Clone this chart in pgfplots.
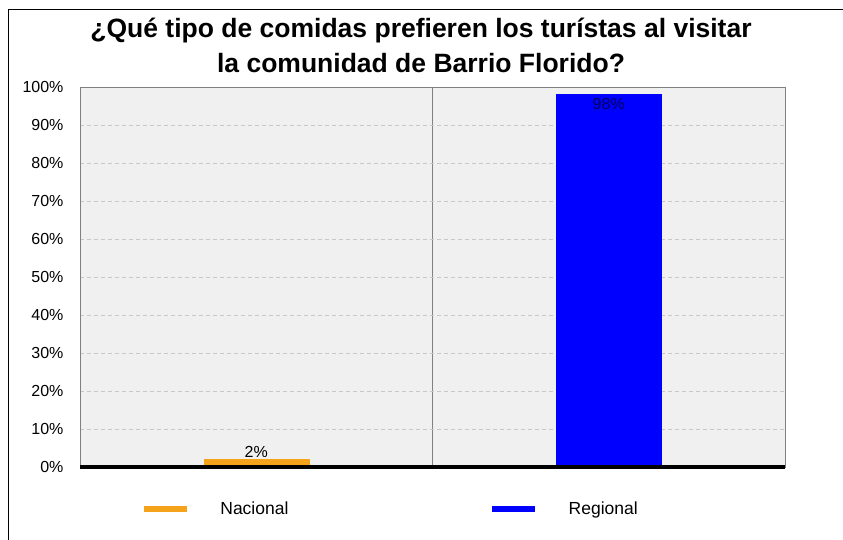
\documentclass[border=0pt]{standalone}
\usepackage{pgfplots}
\pgfplotsset{compat=1.18}
\usepackage{fontspec}
\setmainfont{Liberation Sans}
\definecolor{bgC}{HTML}{F0F0F0}
\definecolor{orC}{HTML}{F5A31A}
\definecolor{blC}{HTML}{0000FF}
\definecolor{frameC}{HTML}{808080}
\definecolor{gridC}{HTML}{C8C8C8}
\begin{document}
\begin{tikzpicture}
\useasboundingbox (-80pt,-74pt) rectangle (763pt,466pt);
\draw[black, line width=1pt] (-71.5pt,-74pt) -- (-71.5pt,456pt) -- (763pt,456pt);
\node[font=\fontsize{26.5}{35}\selectfont\bfseries, align=center] at (341pt,420.5pt)
  {¿Qué tipo de comidas prefieren los turístas al visitar\\la comunidad de Barrio Florido?};
\begin{axis}[
  at={(0pt,-1pt)}, anchor=south west,
  scale only axis, width=705pt, height=380pt,
  xmin=-0.5, xmax=1.5, ymin=0, ymax=100,
  axis background/.style={fill=bgC},
  axis line style={frameC, line width=0.8pt},
  xtick={0.5}, xticklabels={},
  ytick={0,10,...,100},
  yticklabel={\pgfmathprintnumber{\tick}\%},
  /pgf/number format/assume math mode=true,
  tick label style={font=\fontsize{16}{18}\selectfont},
  yticklabel style={xshift=-13pt},
  major tick length=0pt,
  xmajorgrids, ymajorgrids,
  major x grid style={solid, frameC, line width=0.6pt},
  major y grid style={gridC, dash pattern=on 4pt off 3pt, line width=0.6pt},
  ybar, bar width=0.298,
  legend style={at={(0.0865,-0.11)}, anchor=west, draw=none, fill=none,
    inner sep=0pt, font=\fontsize{17.5}{20}\selectfont, legend columns=2,
    /tikz/every even column/.append style={column sep=199pt}},
  legend image code/.code={\draw[line width=6pt] (0pt,0pt) -- (43pt,0pt); \path (74pt,0pt);},
  clip=false,
]
\addplot[bar shift=0pt, fill=orC, draw=orC,
  nodes near coords={\pgfmathprintnumber{\pgfplotspointmeta}\%},
  nodes near coords style={font=\fontsize{16}{18}\selectfont, text=black, anchor=south, inner sep=2pt}]
  coordinates {(0,2)};
\addlegendentry{Nacional}
\addplot[bar shift=0pt, fill=blC, draw=blC,
  nodes near coords={\pgfmathprintnumber{\pgfplotspointmeta}\%},
  nodes near coords style={font=\fontsize{16}{18}\selectfont, text=blue!35!black, anchor=north, inner sep=4pt}]
  coordinates {(1,98)};
\addlegendentry{Regional}
\draw[black, line width=3.5pt] (rel axis cs:0,0) -- (rel axis cs:1,0);
\end{axis}
\end{tikzpicture}
\end{document}
